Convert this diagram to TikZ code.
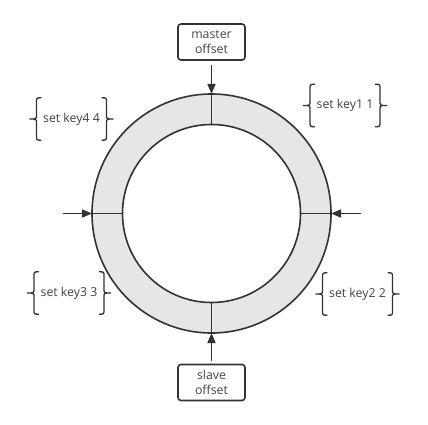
\documentclass[tikz,border=0pt]{standalone}
\usepackage{fontspec}
\setmainfont{Open Sans}
\usetikzlibrary{arrows.meta,calc}
\definecolor{ln}{HTML}{333333}
\definecolor{tx}{HTML}{444444}
\definecolor{ringfill}{HTML}{E6E6E6}
\tikzset{
  line/.style={draw=ln, line width=1.6pt},
  arr/.style={line, -{Triangle[length=10pt,width=8pt]}},
  offbox/.style={line, rounded corners=3pt, minimum width=67pt, minimum height=36pt, inner sep=0pt, align=center, font=\fontsize{12.3}{15}\selectfont, text=tx},
  keylabel/.style={inner xsep=6.5pt, inner ysep=0pt, minimum height=42pt, font=\fontsize{12.3}{15}\selectfont, text=tx},
  bracestyle/.style={draw=ln, line width=1.3pt},
}
\newcommand\curlypair[1]{%
  \draw[bracestyle] ($(#1.north west)+(5,0)$) .. controls (#1.north west) .. ($(#1.north west)+(0,5)$) -- ($(#1.west)+(0,-4)$) .. controls (#1.west) .. ($(#1.west)+(-7,0)$) .. controls (#1.west) .. ($(#1.west)+(0,4)$) -- ($(#1.south west)+(0,-5)$) .. controls (#1.south west) .. ($(#1.south west)+(5,0)$);
  \draw[bracestyle] ($(#1.north east)+(-5,0)$) .. controls (#1.north east) .. ($(#1.north east)+(0,5)$) -- ($(#1.east)+(0,-4)$) .. controls (#1.east) .. ($(#1.east)+(7,0)$) .. controls (#1.east) .. ($(#1.east)+(0,4)$) -- ($(#1.south east)+(0,-5)$) .. controls (#1.south east) .. ($(#1.south east)+(-5,0)$);
}
\begin{document}
\begin{tikzpicture}[x=1pt,y=-1pt]
\useasboundingbox (0,0) rectangle (428,425);
\fill[white] (0,0) rectangle (428,425);
\coordinate (c) at (211.5,213.5);
\fill[ringfill, even odd rule] (c) circle (119.5) (c) circle (89);
\draw[line] (c) circle (119.5);
\draw[line] (c) circle (89);
% ring points
\coordinate (ot) at (211.5,94);
\coordinate (it) at (211.5,124.5);
\coordinate (ob) at (211.5,333);
\coordinate (ib) at (211.5,302.5);
\coordinate (ol) at (92,213.5);
\coordinate (il) at (122.5,213.5);
\coordinate (or) at (331,213.5);
\coordinate (ir) at (300.5,213.5);
\draw[line] (ot) -- (it);
\draw[line] (ob) -- (ib);
\draw[line] (ol) -- (il);
\draw[line] (or) -- (ir);
% offset boxes
\node[offbox] (master) at (211.5,42) {master\\offset};
\node[offbox] (slave) at (211.5,382.5) {slave\\offset};
\draw[arr, shorten <=4pt] (master.south) -- (ot);
\draw[arr, shorten <=3pt] (slave.north) -- (ob);
% side arrows
\coordinate (lt) at (62.5,213.5);
\coordinate (rt) at (360.5,213.5);
\draw[arr] (lt) -- (ol);
\draw[arr] (rt) -- (or);
% key labels
\node[keylabel] (k4) at (71.5,119) {set key4 4};
\node[keylabel] (k1) at (345,105.5) {set key1 1};
\node[keylabel] (k3) at (69,293) {set key3 3};
\node[keylabel] (k2) at (357.5,294) {set key2 2};
\curlypair{k4}
\curlypair{k1}
\curlypair{k3}
\curlypair{k2}
\end{tikzpicture}
\end{document}
